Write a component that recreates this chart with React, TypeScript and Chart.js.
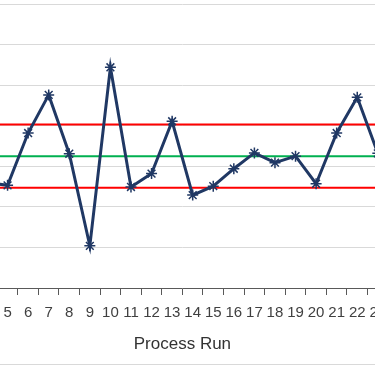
import React, { useEffect, useRef } from "react";
import { Chart, registerables } from "chart.js";

Chart.register(...registerables);

const runs: string[] = [
  "1", "2", "3", "4", "5", "6", "7", "8", "9", "10", "11", "12", "13",
  "14", "15", "16", "17", "18", "19", "20", "21", "22", "23", "24", "25", "26",
];
const measurements: number[] = [
  3.1, 2.7, 3.5, 2.6, 2.53, 3.82, 4.76, 3.31, 1.04, 5.44, 2.49, 2.82, 4.11,
  2.29, 2.51, 2.94, 3.33, 3.09, 3.25, 2.57, 3.82, 4.7, 3.32, 3.0, 2.9, 3.2,
];
const ucl: number[] = runs.map(() => 4.03);
const centerLine: number[] = runs.map(() => 3.25);
const lcl: number[] = runs.map(() => 2.47);

const yMin = 0;
const yMax = 7;
const yStep = 1;

export default function App() {
  const ref = useRef<HTMLCanvasElement | null>(null);

  useEffect(() => {
    document.body.style.margin = "0";
    const canvas = ref.current;
    if (!canvas) return;
    const chart = new Chart(canvas, {
      type: "line",
      data: {
        labels: runs,
        datasets: [
          {
            label: "Measurement",
            data: measurements,
            borderColor: "#203864",
            backgroundColor: "#203864",
            borderWidth: 3,
            pointStyle: "star",
            pointRadius: 5.5,
            pointBorderWidth: 1.5,
            pointBorderColor: "#203864",
            tension: 0,
            order: 0,
          },
          {
            label: "UCL",
            data: ucl,
            borderColor: "#ff0000",
            borderWidth: 2,
            pointRadius: 0,
            order: 1,
          },
          {
            label: "CL",
            data: centerLine,
            borderColor: "#00b050",
            borderWidth: 2,
            pointRadius: 0,
            order: 1,
          },
          {
            label: "LCL",
            data: lcl,
            borderColor: "#ff0000",
            borderWidth: 2,
            pointRadius: 0,
            order: 1,
          },
        ],
      },
      options: {
        responsive: false,
        animation: false,
        devicePixelRatio: 1,
        layout: { padding: { top: 0, bottom: 0, left: 0, right: 0 } },
        plugins: {
          legend: { display: false },
          tooltip: { enabled: false },
          title: { display: false },
        },
        scales: {
          x: {
            type: "category",
            offset: true,
            grid: {
              offset: true,
              drawOnChartArea: false,
              drawTicks: true,
              tickLength: 7,
              color: "#595959",
              lineWidth: 1,
            },
            border: { display: true, color: "#595959", width: 1 },
            ticks: {
              autoSkip: false,
              maxRotation: 0,
              minRotation: 0,
              padding: 9,
              color: "#404040",
              font: { family: "'Liberation Sans', Arial, sans-serif", size: 15 },
            },
            title: {
              display: true,
              text: "Process Run",
              color: "#333333",
              font: { family: "'Liberation Sans', Arial, sans-serif", size: 17 },
              padding: { top: 2.8, bottom: 11.8 },
            },
          },
          y: {
            min: yMin,
            max: yMax,
            ticks: { display: false, stepSize: yStep },
            grid: { color: "#d9d9d9", lineWidth: 1, drawTicks: false },
            border: { display: false },
            afterFit: (s: any) => {
              s.width = 0;
            },
          },
        },
      },
    });
    return () => chart.destroy();
  }, []);

  return (
    <div
      style={{
        position: "fixed",
        left: 0,
        top: 0,
        width: 375,
        height: 366,
        overflow: "hidden",
        background: "#ffffff",
      }}
    >
      <canvas
        ref={ref}
        width={549}
        height={369}
        style={{ position: "absolute", left: -92, top: -3, width: 549, height: 369 }}
      />
      <div
        style={{
          position: "absolute",
          left: 0,
          top: 364,
          width: 375,
          height: 0,
          borderTop: "1px solid #d9d9d9",
        }}
      />
    </div>
  );
}
